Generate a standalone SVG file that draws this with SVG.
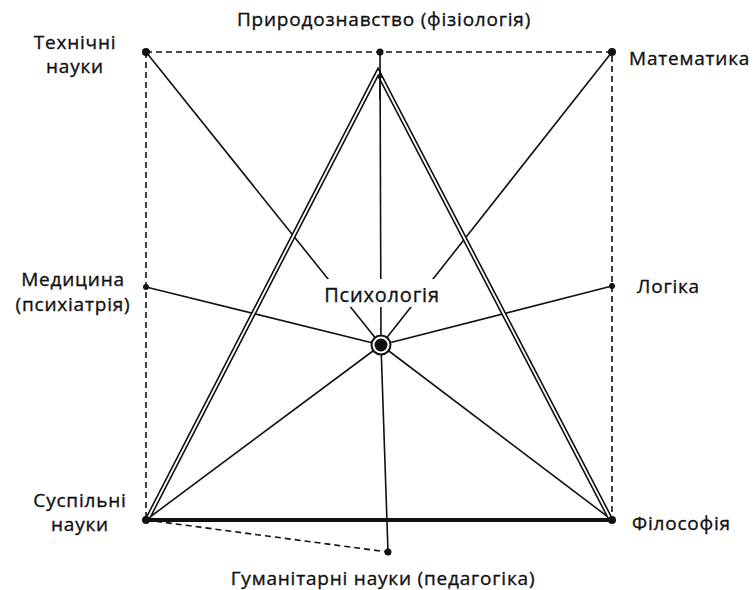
<svg xmlns="http://www.w3.org/2000/svg" width="756" height="590" viewBox="0 0 756 590">
<defs>
<style>
.t{font-family:"Open Sans","Noto Sans","DejaVu Sans",sans-serif;font-size:19px;letter-spacing:0.8px;fill:#111;stroke:#111;stroke-width:0.35}
.dash{stroke:#111;stroke-width:1.6;stroke-dasharray:6 4;fill:none}
.ray{stroke:#111;stroke-width:1.6;fill:none}
.dbo{stroke:#111;stroke-width:5;fill:none;stroke-linejoin:miter}
.dbi{stroke:#fff;stroke-width:1.8;fill:none;stroke-linejoin:miter}
.dot{fill:#111}
</style>
<marker id="ah" viewBox="0 0 10 10" refX="9" refY="5" markerWidth="7" markerHeight="9" orient="auto" markerUnits="userSpaceOnUse">
<path d="M0,0 L10,5 L0,10 Z" fill="#111"/>
</marker>
</defs>
<rect width="756" height="590" fill="#fff"/>
<g id="connectors">
<path class="dash" d="M146,52 H612 V520 M146,52 V520 M146,520 L388,552"/>
<line class="ray" x1="381" y1="345" x2="146" y2="52"/>
<line class="ray" x1="381" y1="345" x2="612" y2="52"/>
<line class="ray" x1="381" y1="345" x2="146" y2="287"/>
<line class="ray" x1="381" y1="345" x2="612" y2="286"/>
<line class="ray" x1="381" y1="345" x2="146" y2="520"/>
<line class="ray" x1="381" y1="345" x2="612" y2="520"/>
<line class="ray" x1="381" y1="345" x2="388" y2="552"/>
<path class="dbo" d="M148,518 L378,72 L610,518"/>
<path class="dbi" d="M148,518 L378,72 L610,518"/>
<line class="ray" x1="381" y1="345" x2="380" y2="52"/>
<line class="ray" x1="380" y1="100" x2="380" y2="72" marker-end="url(#ah)"/>
<line stroke="#111" stroke-width="4" x1="146" y1="520" x2="612" y2="520"/>
</g>
<g id="n-top"><circle class="dot" cx="380" cy="52" r="3.5"/><text class="t" x="384" y="26" text-anchor="middle">Природознавство (фізіологія)</text></g>
<g id="n-tech"><circle class="dot" cx="146" cy="52" r="4"/><text class="t" x="75" y="49" text-anchor="middle">Технічні</text><text class="t" x="75" y="73" text-anchor="middle">науки</text></g>
<g id="n-math"><circle class="dot" cx="612" cy="52" r="4"/><text class="t" x="629" y="65">Математика</text></g>
<g id="n-med"><circle class="dot" cx="146" cy="287" r="3"/><text class="t" x="73" y="286" text-anchor="middle">Медицина</text><text class="t" x="73" y="311" text-anchor="middle">(психіатрія)</text></g>
<g id="n-log"><circle class="dot" cx="612" cy="286" r="3"/><text class="t" x="637" y="293">Логіка</text></g>
<g id="n-soc"><circle class="dot" cx="146" cy="520" r="4"/><text class="t" x="80" y="507" text-anchor="middle">Суспільні</text><text class="t" x="80" y="531" text-anchor="middle">науки</text></g>
<g id="n-phil"><circle class="dot" cx="612" cy="520" r="4"/><text class="t" x="632" y="530">Філософія</text></g>
<g id="n-hum"><circle class="dot" cx="388" cy="552" r="3.5"/><text class="t" x="383" y="585" text-anchor="middle">Гуманітарні науки (педагогіка)</text></g>
<g id="n-psy">
<rect x="318" y="279" width="126" height="28" fill="#fff"/>
<text class="t" x="382" y="302" text-anchor="middle" style="font-size:20px">Психологія</text>
<circle cx="381" cy="345" r="10.5" fill="#111"/>
<circle cx="381" cy="345" r="8.5" fill="#fff"/>
<circle cx="381" cy="345" r="6.5" fill="#111"/>
</g>
</svg>
